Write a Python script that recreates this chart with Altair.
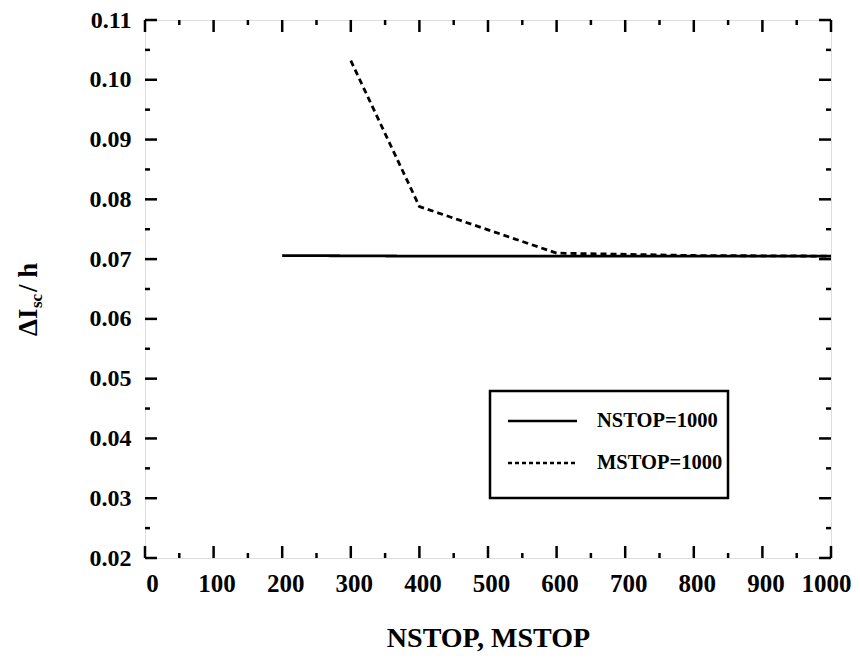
import altair as alt
import pandas as pd

# ---- data ----
n_x = [200, 400, 600, 800, 1000]
n_y = [0.0706, 0.0705, 0.0705, 0.0705, 0.0705]
m_x = [300, 400, 600, 800, 1000]
m_y = [0.1032, 0.0788, 0.0710, 0.0706, 0.0705]
series_names = ["NSTOP=1000", "MSTOP=1000"]

x_major = [0, 100, 200, 300, 400, 500, 600, 700, 800, 900, 1000]
x_minor = [50, 150, 250, 350, 450, 550, 650, 750, 850, 950]
y_major = [0.02, 0.03, 0.04, 0.05, 0.06, 0.07, 0.08, 0.09, 0.10, 0.11]
y_minor = [0.025, 0.035, 0.045, 0.055, 0.065, 0.075, 0.085, 0.095, 0.105]

W, H = 686, 538
FONT = "Liberation Serif"

rows = []
for x, y in zip(n_x, n_y):
    rows.append({"x": x, "y": y, "series": series_names[0]})
for x, y in zip(m_x, m_y):
    rows.append({"x": x, "y": y, "series": series_names[1]})
df = pd.DataFrame(rows)

xs = alt.Scale(domain=[0, 1000], nice=False, zero=False)
ys = alt.Scale(domain=[0.02, 0.11], nice=False, zero=False)

lines = alt.Chart(df).mark_line(color="black", strokeWidth=2.8).encode(
    x=alt.X("x:Q", scale=xs,
            axis=alt.Axis(values=x_major, format="d", title="NSTOP, MSTOP", ticks=False,
                          domain=False, grid=False, labelFont=FONT, labelFontSize=25,
                          labelFontWeight="bold", labelColor="black", labelPadding=13,
                          labelAlign=alt.expr("datum.value == 1000 ? 'right' : 'center'"),
                          labelOffset=alt.expr("datum.value == 1000 ? 20 : (datum.value == 0 ? 7 : 3)"),
                          titleFont=FONT, titleFontSize=28, titleFontWeight="bold",
                          titleColor="black", titlePadding=28, labelFlush=False)),
    y=alt.Y("y:Q", scale=ys,
            axis=alt.Axis(values=y_major, format=".2f", title=None, ticks=False, domain=False,
                          grid=False, labelFont=FONT, labelFontSize=24, labelFontWeight="bold",
                          labelColor="black", labelPadding=14, labelFlush=False)),
    strokeDash=alt.StrokeDash("series:N",
                              scale=alt.Scale(domain=series_names, range=[[1, 0], [6, 4]]),
                              legend=None),
    detail="series:N",
)

def ticks_x(vals, length):
    d = pd.DataFrame({"v": vals})
    bottom = alt.Chart(d).mark_rule(color="black", strokeWidth=2.5).encode(
        x=alt.X("v:Q", scale=xs), y=alt.value(H), y2=alt.value(H - length))
    top = alt.Chart(d).mark_rule(color="black", strokeWidth=2.5).encode(
        x=alt.X("v:Q", scale=xs), y=alt.value(0), y2=alt.value(length))
    return [bottom, top]

def ticks_y(vals, length):
    d = pd.DataFrame({"v": vals})
    left = alt.Chart(d).mark_rule(color="black", strokeWidth=2.5).encode(
        y=alt.Y("v:Q", scale=ys), x=alt.value(0), x2=alt.value(length))
    right = alt.Chart(d).mark_rule(color="black", strokeWidth=2.5).encode(
        y=alt.Y("v:Q", scale=ys), x=alt.value(W), x2=alt.value(W - length))
    return [left, right]

tick_layers = ticks_x(x_major, 12) + ticks_x(x_minor, 5) + ticks_y(y_major, 12) + ticks_y(y_minor, 5)

# ---- legend box (drawn by hand) ----
one = pd.DataFrame({"a": [0]})
box = alt.Chart(one).mark_rect(
    fill="white", stroke="black", strokeWidth=2.5).encode(
    x=alt.value(345), x2=alt.value(583), y=alt.value(371), y2=alt.value(478))
leg_solid = alt.Chart(one).mark_rule(color="black", strokeWidth=2.5).encode(
    x=alt.value(363), x2=alt.value(432), y=alt.value(401))
leg_dash = alt.Chart(one).mark_rule(
    color="black", strokeWidth=2.5, strokeDash=[4, 3]).encode(
    x=alt.value(363), x2=alt.value(432), y=alt.value(443))
leg_t1 = alt.Chart(pd.DataFrame({"t": [series_names[0]]})).mark_text(
    font=FONT, fontSize=20.5, fontWeight="bold", align="left", baseline="middle", color="black").encode(
    x=alt.value(452), y=alt.value(401), text="t:N")
leg_t2 = alt.Chart(pd.DataFrame({"t": [series_names[1]]})).mark_text(
    font=FONT, fontSize=20.5, fontWeight="bold", align="left", baseline="middle", color="black").encode(
    x=alt.value(452), y=alt.value(443), text="t:N")

# ---- y-axis title with subscript ----
ttl_a = alt.Chart(pd.DataFrame({"t": ["ΔI"]})).mark_text(
    font=FONT, fontSize=27, fontWeight="bold", angle=270, align="left",
    baseline="alphabetic", color="black").encode(x=alt.value(-108), y=alt.value(316), text="t:N")
ttl_b = alt.Chart(pd.DataFrame({"t": ["sc"]})).mark_text(
    font=FONT, fontSize=17, fontWeight="bold", angle=270, align="left",
    baseline="alphabetic", color="black").encode(x=alt.value(-103), y=alt.value(288), text="t:N")
ttl_c = alt.Chart(pd.DataFrame({"t": [" / h"]})).mark_text(
    font=FONT, fontSize=27, fontWeight="bold", angle=270, align="left",
    baseline="alphabetic", color="black").encode(x=alt.value(-108), y=alt.value(272), text="t:N")

chart = alt.layer(lines, *tick_layers, box, leg_solid, leg_dash, leg_t1, leg_t2,
                  ttl_a, ttl_b, ttl_c).properties(
    width=W, height=H,
    autosize=alt.AutoSizeParams(type="none"),
    padding={"left": 137, "top": 12, "right": 20, "bottom": 98},
).configure_view(stroke="black", strokeWidth=3).configure(background="white")

chart.save("out.html", embed_options={"renderer": "svg", "actions": False})
